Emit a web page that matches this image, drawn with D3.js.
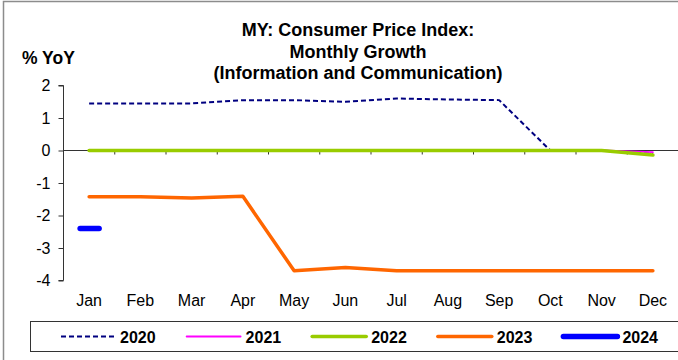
<!DOCTYPE html>
<html>
<head>
<meta charset="utf-8">
<script src="https://cdn.jsdelivr.net/npm/d3@7/dist/d3.min.js"></script>
<style>
  html, body { margin: 0; padding: 0; background: #fff; }
  svg { display: block; font-family: "Liberation Sans", Arial, sans-serif; }
</style>
</head>
<body>
<svg id="chart" width="678" height="360"></svg>
<script>
// Categories and tick labels
const months = ["Jan", "Feb", "Mar", "Apr", "May", "Jun", "Jul", "Aug", "Sep", "Oct", "Nov", "Dec"];
const yTicks = [2, 1, 0, -1, -2, -3, -4];

// Monthly year-on-year growth, % (null = not yet published)
const y2020 = [1.45, 1.45, 1.45, 1.55, 1.55, 1.5, 1.6, 1.57, 1.55, 0, 0, -0.1];
const y2021 = [0, 0, 0, 0, 0, 0, 0, 0, 0, 0, 0, -0.05];
const y2022 = [0, 0, 0, 0, 0, 0, 0, 0, 0, 0, 0, -0.14];
const y2023 = [-1.42, -1.42, -1.46, -1.41, -3.7, -3.6, -3.7, -3.7, -3.7, -3.7, -3.7, -3.7];
const y2024 = [-2.4, null, null, null, null, null, null, null, null, null, null, null];

const seriesNames = ["2020", "2021", "2022", "2023", "2024"];

const series = [
  { name: seriesNames[0], values: y2020, color: "#000080", width: 2, dash: "5,3" },
  { name: seriesNames[1], values: y2021, color: "#ff00ff", width: 1.8, dash: null },
  { name: seriesNames[2], values: y2022, color: "#99cc00", width: 3.6, dash: null },
  { name: seriesNames[3], values: y2023, color: "#ff6600", width: 3.5, dash: null },
  { name: seriesNames[4], values: y2024, color: "#0000ff", width: 5.5, dash: null }
];

const svg = d3.select("#chart");
const fmt = v => String(v); // plain hyphen-minus for negatives

// Outer chart frame (left and top edges)
svg.append("path")
  .attr("d", "M3.5,360 V1.5 H678")
  .attr("fill", "none")
  .attr("stroke", "#8c8c8c")
  .attr("stroke-width", 1.5);

// Title
const title = ["MY: Consumer Price Index:", "Monthly Growth", "(Information and Communication)"];
svg.append("g").selectAll("text")
  .data(title)
  .join("text")
  .attr("x", 358)
  .attr("y", (d, i) => 36 + i * 21.5)
  .attr("text-anchor", "middle")
  .attr("font-size", 18)
  .attr("font-weight", "bold")
  .text(d => d);

// Y axis unit label
svg.append("text")
  .attr("x", 22)
  .attr("y", 64)
  .attr("font-size", 17.5)
  .attr("font-weight", "bold")
  .text("% YoY");

// Scales
const x = d3.scaleBand().domain(months).range([63.5, 678.5]);
const y = d3.scaleLinear().domain([-4, 2]).range([280.5, 85.5]);

// Y axis
const yAxis = svg.append("g")
  .attr("transform", "translate(63.5,0)")
  .call(d3.axisLeft(y).tickValues(yTicks).tickSize(5).tickPadding(8).tickFormat(fmt));
yAxis.select(".domain").attr("stroke", "#333").attr("d", `M-5,${y(2)}H0V${y(-4)}H-5`);
yAxis.selectAll(".tick line").attr("stroke", "#333");
yAxis.selectAll(".tick text")
  .attr("font-size", 16)
  .attr("font-family", "Liberation Sans, Arial, sans-serif")
  .attr("fill", "#000");

// Zero line with category boundary ticks
const xAxis = svg.append("g")
  .attr("transform", `translate(0,${y(0)})`);
xAxis.append("line")
  .attr("x1", x.range()[0]).attr("x2", x.range()[1])
  .attr("stroke", "#333").attr("stroke-width", 1);
xAxis.selectAll(".bt")
  .data(months.slice(1).concat(["end"]))
  .join("line")
  .attr("class", "bt")
  .attr("x1", (d, i) => x.range()[0] + (i + 1) * x.bandwidth())
  .attr("x2", (d, i) => x.range()[0] + (i + 1) * x.bandwidth())
  .attr("y1", 0).attr("y2", 4)
  .attr("stroke", "#333");

// Month labels along the bottom
svg.append("g").selectAll("text")
  .data(months)
  .join("text")
  .attr("x", d => x(d) + x.bandwidth() / 2)
  .attr("y", 306)
  .attr("text-anchor", "middle")
  .attr("font-size", 16)
  .text(d => d);

// Series lines
const line = d3.line()
  .defined(d => d.v !== null)
  .x(d => x(d.m) + x.bandwidth() / 2)
  .y(d => y(d.v));

const plot = svg.append("g");
series.forEach(s => {
  const pts = months.map((m, i) => ({ m, v: s.values[i] }));
  const valid = pts.filter(p => p.v !== null);
  if (valid.length > 1) {
    plot.append("path")
      .datum(pts)
      .attr("d", line)
      .attr("fill", "none")
      .attr("stroke", s.color)
      .attr("stroke-width", s.width)
      .attr("stroke-linejoin", "round")
      .attr("stroke-linecap", s.dash ? "butt" : "round")
      .attr("stroke-dasharray", s.dash);
  } else {
    // A lone observation is shown as a short dash marker
    valid.forEach(p => {
      const cx = x(p.m) + x.bandwidth() / 2;
      plot.append("line")
        .attr("x1", cx - 9).attr("x2", cx + 10)
        .attr("y1", y(p.v)).attr("y2", y(p.v))
        .attr("stroke", s.color)
        .attr("stroke-width", s.width)
        .attr("stroke-linecap", "round");
    });
  }
});

// Legend
const legend = svg.append("g");
legend.append("rect")
  .attr("x", 30.5).attr("y", 321.5)
  .attr("width", 660).attr("height", 30)
  .attr("fill", "#fff")
  .attr("stroke", "#333")
  .attr("stroke-width", 1);

const lg = legend.selectAll("g.item")
  .data(series)
  .join("g")
  .attr("class", "item")
  .attr("transform", (d, i) => `translate(${61 + i * 125.6},336.5)`);
lg.append("line")
  .attr("x1", 0).attr("x2", 54)
  .attr("stroke", d => d.color)
  .attr("stroke-width", d => d.width)
  .attr("stroke-linecap", d => d.dash ? "butt" : "round")
  .attr("stroke-dasharray", d => d.dash);
lg.append("text")
  .attr("x", 59)
  .attr("y", 6)
  .attr("font-size", 16)
  .attr("font-weight", "bold")
  .text(d => d.name);
</script>
</body>
</html>
